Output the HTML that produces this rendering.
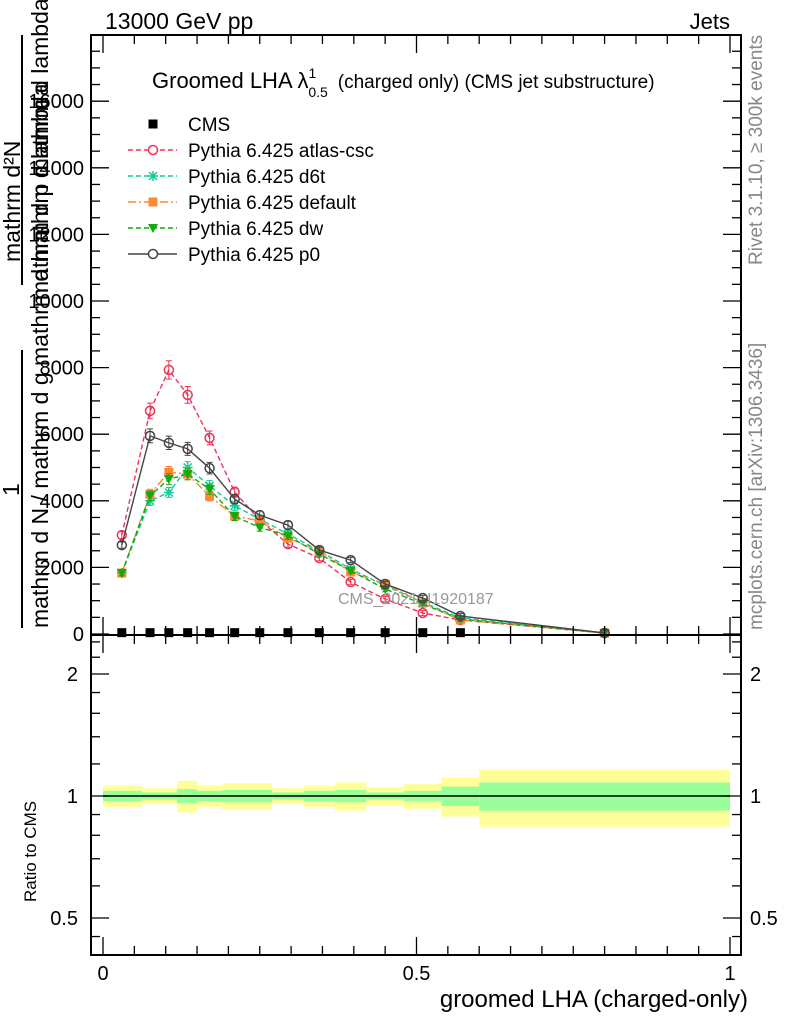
<!DOCTYPE html>
<html><head><meta charset="utf-8"><style>
body{margin:0;background:#fff;}
svg text{font-family:"Liberation Sans",sans-serif;}
</style></head><body>
<svg id="c" width="786" height="1024" xmlns="http://www.w3.org/2000/svg">
<rect width="786" height="1024" fill="#fff"/>
<g id="bands"></g>
<g id="marks"></g>
<g id="axes"></g>
<text x="105" y="29" font-size="23">13000 GeV pp</text>
<text x="730" y="29" font-size="22" text-anchor="end">Jets</text>
<text x="152" y="88" font-size="22">Groomed LHA λ<tspan font-size="14" dy="-10">1</tspan><tspan font-size="14" dx="-8" dy="19">0.5</tspan><tspan font-size="19" dy="-9" dx="10">(charged only) (CMS jet substructure)</tspan></text>
<text x="338" y="604" font-size="16" fill="#999">CMS_2021_I1920187</text>
<text transform="translate(762,265) rotate(-90)" font-size="19" fill="#888">Rivet 3.1.10, ≥ 300k events</text>
<text transform="translate(762,630) rotate(-90)" font-size="19" fill="#888">mcplots.cern.ch [arXiv:1306.3436]</text>
<g>
<line x1="22" y1="35" x2="22" y2="285" stroke="#000" stroke-width="2"/>
<text transform="translate(20,262) rotate(-90)" font-size="23">mathrm d²N</text>
<text transform="translate(48,300) rotate(-90)" font-size="23">mathrm d p mathrm d lambda</text>
<line x1="22" y1="350" x2="22" y2="628" stroke="#000" stroke-width="2"/>
<text transform="translate(19,496) rotate(-90)" font-size="23">1</text>
<text transform="translate(48,628) rotate(-90)" font-size="23">mathrm d N / mathrm d g mathrm d mathrm d lambda</text>
</g>
<text transform="translate(36,902) rotate(-90)" font-size="17">Ratio to CMS</text>
<text x="748" y="1007" font-size="24" text-anchor="end">groomed LHA (charged-only)</text>
<g id="legend"></g>
</svg>
<script>
const xCenters=[0.03,0.075,0.105,0.135,0.17,0.21,0.25,0.295,0.345,0.395,0.45,0.51,0.57,0.8];
const cmsVals=[40,40,40,40,40,40,40,40,40,40,40,40,40,0];
const atlasVals=[2970,6700,7930,7180,5890,4260,3420,2700,2280,1560,1050,630,420,30];
const d6tVals=[1830,4000,4250,5000,4450,3850,3450,3000,2500,1950,1450,950,480,30];
const defaultVals=[1830,4200,4860,4800,4140,3540,3400,2880,2490,1860,1500,930,420,30];
const dwVals=[1830,4150,4650,4800,4350,3530,3200,2950,2400,1900,1350,900,450,30];
const p0Vals=[2670,5950,5740,5560,4980,4050,3570,3270,2520,2220,1500,1080,540,30];
const bandEdges=[0,0.062,0.118,0.15,0.19,0.27,0.32,0.37,0.42,0.48,0.54,0.6,1.0];
const yellowDev=[0.06,0.045,0.09,0.06,0.075,0.045,0.06,0.08,0.05,0.07,0.11,0.16];
const greenDev=[0.03,0.02,0.04,0.03,0.035,0.02,0.03,0.035,0.02,0.03,0.055,0.08];
const yTicks=[0,2000,4000,6000,8000,10000,12000,14000,16000];
const rTicks=[0.5,1,2];
const xTicks=[0,0.5,1];

const NS="http://www.w3.org/2000/svg";
const X=v=>103+v*627;
const Y=v=>634-v*0.0333;
const R=v=>796-Math.log2(v)*122;
function mk(tag,attrs,parent){const e=document.createElementNS(NS,tag);for(const k in attrs)e.setAttribute(k,attrs[k]);document.getElementById(parent).appendChild(e);return e;}

for(let i=0;i<yellowDev.length;i++){
 const x0=X(bandEdges[i]),x1=X(bandEdges[i+1]);
 let e=mk('rect',{x:x0,y:R(1+yellowDev[i]),width:x1-x0,height:R(1-yellowDev[i])-R(1+yellowDev[i]),fill:'#ffff99'},'bands');
 
 
 e=mk('rect',{x:x0,y:R(1+greenDev[i]),width:x1-x0,height:R(1-greenDev[i])-R(1+greenDev[i]),fill:'#99ff99'},'bands');
 
 
}
let rl=mk('line',{x1:X(0),x2:X(1),y1:R(1),y2:R(1),stroke:'#000','stroke-width':1.5},'bands');



const series=[
 {name:'atlas-csc',vals:atlasVals,col:'#ee3355',dash:'5,3',mark:'circle'},
 {name:'d6t',vals:d6tVals,col:'#11cc99',dash:'5,3',mark:'star'},
 {name:'default',vals:defaultVals,col:'#ff8833',dash:'8,3,2,3',mark:'square'},
 {name:'dw',vals:dwVals,col:'#11aa11',dash:'5,3',mark:'tri'},
 {name:'p0',vals:p0Vals,col:'#444444',dash:'',mark:'circle'}
];
function marker(type,x,y,col,parent){
 let e;
 if(type==='circle')e=mk('circle',{cx:x,cy:y,r:4.5,fill:'none',stroke:col,'stroke-width':1.5},parent);
 else if(type==='square')e=mk('rect',{x:x-4.5,y:y-4.5,width:9,height:9,fill:col},parent);
 else if(type==='tri')e=mk('path',{d:`M${x-5},${y-4}L${x+5},${y-4}L${x},${y+5}Z`,fill:col},parent);
 else if(type==='star')e=mk('path',{d:`M${x-5},${y}H${x+5}M${x},${y-5}V${y+5}M${x-4},${y-4}L${x+4},${y+4}M${x-4},${y+4}L${x+4},${y-4}`,stroke:col,'stroke-width':1.5},parent);
 else if(type==='cms')e=mk('rect',{x:x-4.5,y:y-4.5,width:9,height:9,fill:'#000'},parent);
 return e;
}
series.forEach(s=>{
 const pts=xCenters.map((v,i)=>X(v)+','+Y(s.vals[i])).join(' ');
 const pl=mk('polyline',{points:pts,fill:'none',stroke:s.col,'stroke-width':1.4,'stroke-dasharray':s.dash},'marks');
 
 
 xCenters.forEach((v,i)=>{
  const err=Math.max(80,s.vals[i]*0.035);
  const eb=mk('path',{d:`M${X(v)},${Y(s.vals[i]+err)}V${Y(s.vals[i]-err)}M${X(v)-3},${Y(s.vals[i]+err)}h6M${X(v)-3},${Y(s.vals[i]-err)}h6`,stroke:s.col,'stroke-width':1},'marks');
  
  
  const m=marker(s.mark,X(v),Y(s.vals[i]),s.col,'marks');
  
  
 });
});
xCenters.forEach((v,i)=>{
 if(cmsVals[i]<=0)return;
 const m=marker('cms',X(v),Y(cmsVals[i]),'#000','marks');
 
 
});

let f=mk('rect',{x:91,y:35,width:650,height:600,fill:'none',stroke:'#000','stroke-width':2},'axes');


f=mk('rect',{x:91,y:635,width:650,height:320,fill:'none',stroke:'#000','stroke-width':2},'axes');


for(let v=0;v<=18000;v+=500){
 const maj=v%2000===0,len=maj?18:9;
 mk('line',{x1:91,x2:91+len,y1:Y(v),y2:Y(v),stroke:'#000','stroke-width':1.3},'axes');
 mk('line',{x1:741,x2:741-len,y1:Y(v),y2:Y(v),stroke:'#000','stroke-width':1.3},'axes');
}
yTicks.forEach(v=>{const t=mk('text',{x:84,y:Y(v)+7,'font-size':20,'text-anchor':'end'},'axes');t.textContent=v;
 
 });
for(let k=0;k<=20;k++){
 const v=k*0.05,maj=k%10===0,len=maj?18:9;
 [[35,1],[635,-1],[635,1],[955,-1]].forEach(([y,d])=>mk('line',{x1:X(v),x2:X(v),y1:y,y2:y+d*len,stroke:'#000','stroke-width':1.3},'axes'));
}
xTicks.forEach(v=>{const t=mk('text',{x:X(v),y:980,'font-size':20,'text-anchor':'middle'},'axes');t.textContent=v;
 
 });
const rMinor=[0.45,0.5,0.6,0.7,0.8,0.9,1,1.2,1.4,1.6,1.8,2,2.2,2.4];
rMinor.forEach(v=>{const maj=rTicks.includes(v),len=maj?18:9;
 mk('line',{x1:91,x2:91+len,y1:R(v),y2:R(v),stroke:'#000','stroke-width':1.3},'axes');
 mk('line',{x1:741,x2:741-len,y1:R(v),y2:R(v),stroke:'#000','stroke-width':1.3},'axes');});
rTicks.forEach(v=>{
 let t=mk('text',{x:78,y:R(v)+7,'font-size':20,'text-anchor':'end'},'axes');t.textContent=v;
 
 
 t=mk('text',{x:750,y:R(v)+7,'font-size':20},'axes');t.textContent=v;
 
 
});

const leg=[{n:'CMS',m:'cms',c:'#000',d:null}].concat(series.map(s=>({n:'Pythia 6.425 '+s.name,m:s.mark,c:s.col,d:s.dash})));
leg.forEach((l,i)=>{
 const y=124+i*26;
 if(l.d!==null){const ln=mk('line',{x1:128,x2:177,y1:y,y2:y,stroke:l.c,'stroke-width':1.4,'stroke-dasharray':l.d},'legend');
  
  }
 const m=marker(l.m,153,y,l.c,'legend');
 if(i>0&&l.m==='circle')m.setAttribute('fill','#fff');
 
 
 const t=mk('text',{x:188,y:y+7,'font-size':19},'legend');t.textContent=l.n;
 
 
});
</script>
</body></html>
